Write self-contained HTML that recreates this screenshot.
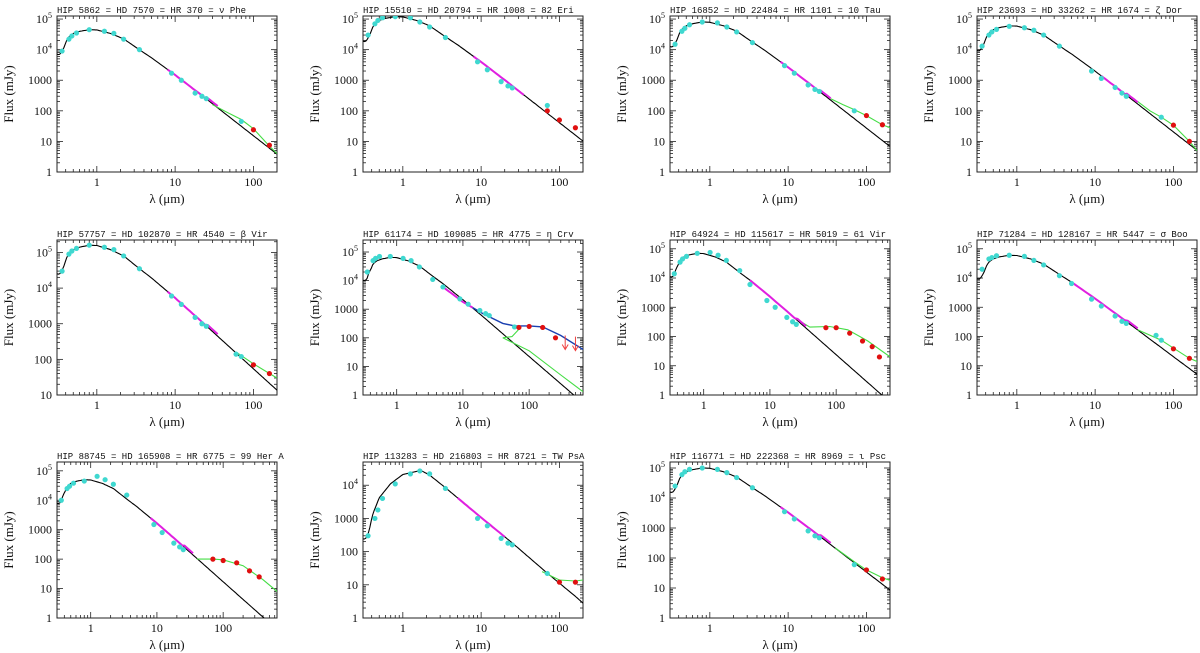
<!DOCTYPE html>
<html><head><meta charset="utf-8">
<style>
html,body{margin:0;padding:0;background:#fff;}
svg{display:block;}
.t{font-family:"Liberation Mono","DejaVu Sans Mono",monospace;font-size:9px;fill:#111;}
.ax{font-family:"Liberation Serif",serif;font-size:12px;fill:#111;}
.at{font-family:"Liberation Serif",serif;font-size:13px;fill:#111;}
</style></head>
<body>
<svg id="fig" width="1200" height="653" viewBox="0 0 1200 653" xmlns="http://www.w3.org/2000/svg"></svg>
<script>
// ---- shared photosphere shape (lambda um, relative flux) ----
const shapeL = [0.3,0.36,0.4,0.45,0.5,0.6,0.8,1.0,1.5,2.2,3.5,5,10,20,100,700];
const shapeF = [0.15,0.2,0.42,0.62,0.75,0.88,1.0,0.98,0.75,0.5,0.22,0.12,0.033,0.0085,0.00034,0.000007];
const kShapeL = [0.3,0.36,0.4,0.5,0.7,1.0,1.7,2.2,3.5,10,25,70,160,200];
const kShapeF = [0.008,0.012,0.04,0.15,0.4,0.75,1.0,0.72,0.3,0.038,0.0065,0.0008,0.00016,0.0001];

const titles = [
 "HIP 5862 = HD 7570 = HR 370 = \u03bd Phe",
 "HIP 15510 = HD 20794 = HR 1008 = 82 Eri",
 "HIP 16852 = HD 22484 = HR 1101 = 10 Tau",
 "HIP 23693 = HD 33262 = HR 1674 = \u03b6 Dor",
 "HIP 57757 = HD 102870 = HR 4540 = \u03b2 Vir",
 "HIP 61174 = HD 109085 = HR 4775 = \u03b7 Crv",
 "HIP 64924 = HD 115617 = HR 5019 = 61 Vir",
 "HIP 71284 = HD 128167 = HR 5447 = \u03c3 Boo",
 "HIP 88745 = HD 165908 = HR 6775 = 99 Her A",
 "HIP 113283 = HD 216803 = HR 8721 = TW PsA",
 "HIP 116771 = HD 222368 = HR 8969 = \u03b9 Psc"
];
const peaks = [4.5e4,1.2e5,8e4,6e4,1.6e5,6.5e4,7e4,6e4,5e4,2.8e4,1.0e5];
const xMaxes = [200,200,200,200,200,650,650,200,650,200,200];
const yMinLog = [0,0,0,0,1,0,0,0,0,0,0];
const yMaxLog = [5.1,5.1,5.1,5.1,5.35,5.42,5.3,5.3,5.3,4.7,5.2];

const optL = [0.36,0.44,0.48,0.55,0.8,1.25,1.65,2.2,3.5];
const cyanF = [
 [9e3,2.2e4,2.8e4,3.5e4,4.5e4,4e4,3.4e4,2.2e4,1e4],
 [3e4,7e4,9e4,1.1e5,1.2e5,1.1e5,8e4,5.5e4,2.5e4],
 [1.5e4,4e4,5e4,6.5e4,8e4,7.5e4,5.5e4,3.8e4,1.7e4],
 [1.3e4,3e4,3.8e4,4.6e4,5.8e4,5.2e4,4.3e4,3e4,1.3e4],
 [3e4,9e4,1.1e5,1.3e5,1.6e5,1.4e5,1.2e5,8e4,3.5e4],
 [2e4,5e4,6e4,7e4,7e4,6e4,5e4,3e4,1.1e4],
 [1.4e4,3.5e4,4.5e4,5.5e4,7e4,7.5e4,6e4,4e4,1.8e4],
 [2e4,4.5e4,5e4,5.8e4,6e4,5.5e4,4e4,2.8e4,1.2e4],
 [1e4,2.5e4,3e4,3.8e4,4.5e4,6.5e4,5e4,3.5e4,1.5e4],
 [300,1000,1800,4000,1.1e4,2.2e4,2.7e4,2.2e4,8000],
 [2.5e4,6e4,7.5e4,9e4,1e5,9e4,7e4,4.8e4,2.2e4]
];
const irL = [
 [9,12,18,22,25,70],[9,12,18,22,25,70],[9,12,18,22,25,70],[9,12,18,22,25,70],
 [9,12,18,22,25,60,70],[5,9,12,18,22,25,60],[5,9,12,18,22,25],[5,9,12,18,22,25,60,70],
 [9,12,18,22,25],[9,12,18,22,25,70],[9,12,18,22,25,70]
];
const irF = [
 [1700,1000,380,300,250,45],[4000,2200,900,650,560,150],[3000,1700,700,500,430,100],
 [2000,1150,580,380,300,62],[6000,3500,1500,1000,850,140,120],[6000,2300,1500,900,700,600,240],
 [6000,1700,1000,450,320,260],[6500,1900,1100,500,330,280,110,75],
 [1500,800,350,260,210],[1000,600,250,180,160,22],[3500,2000,800,550,470,60]
];
const redL = [[100,160],[70,100,160],[100,160],[100,160],[100,160],[70,100,160,250],[70,100,160,250,350,450],[100,160],[70,100,160,250,350],[100,160],[100,160]];
const redF = [[24,7.5],[100,50,28],[70,35],[34,10],[70,40],[230,250,230,100],[200,200,130,70,45,20],[38,18],[100,90,75,40,25],[12,12],[40,20]];
const limL = [[],[],[],[],[],[350,500],[],[],[],[],[]];
const limF = [[],[],[],[],[],[120,110],[],[],[],[],[]];
const magL = [[8,35],[8,35],[8,35],[12,35],[8,35],[5,14],[5,35],[5,35],[8,35],[5,20],[8,35]];
const greenL = [
 [30,50,70,100,160,200],[],[35,50,70,100,160,200],[35,50,70,100,160,200],[60,100,160,200],
 [40,100,300,650],[25,40,80,150,300,700],[35,70,100,160,200],
 [40,70,100,200,400,700],[60,100,160,200],[40,70,100,160,200]
];
const greenF = [
 [160,80,52,26,7,4],[],[250,160,110,70,35,28],[200,100,62,34,10,5],[160,75,40,30],
 [100,35,5,1.3],[400,210,220,170,70,18],[170,75,40,18,14],
 [100,100,95,60,20,7],[25,14,13,14],[215,75,40,22,18]
];
const cold2L = [40,55,70];
const cold2F = [100,110,200];
const blueL = [5,10,20,40,60,100,160,300,700];
const blueF = [6000,1800,700,320,260,260,240,120,35];

const NS = "http://www.w3.org/2000/svg";
const svg = document.getElementById('fig');
function mk(tag, attrs, parent){ const e=document.createElementNS(NS,tag); for(const k in attrs) e.setAttribute(k,attrs[k]); (parent||svg).appendChild(e); return e; }
function interpLog(L,F,l){
  if(l<=L[0]) return F[0]; if(l>=L[L.length-1]) return F[F.length-1];
  for(let i=0;i<L.length-1;i++){ if(l>=L[i]&&l<=L[i+1]){ const t=(Math.log10(l)-Math.log10(L[i]))/(Math.log10(L[i+1])-Math.log10(L[i])); return Math.pow(10,Math.log10(F[i])+t*(Math.log10(F[i+1])-Math.log10(F[i]))); } }
}
const colX=[57,363,670,977], rowTop=[16,240,462], rowBot=[172,395,618];

for(let p=0;p<11;p++){
  const col=p%4,row=Math.floor(p/4);
  const x0=colX[col], y0=rowTop[row], y1=rowBot[row], W=220, H=y1-y0;
  const lx0=Math.log10(0.31), lx1=Math.log10(xMaxes[p]);
  const ly0=yMinLog[p], ly1=yMaxLog[p];
  const X=l=>x0+(Math.log10(l)-lx0)/(lx1-lx0)*W;
  const Y=f=>y1-(Math.log10(f)-ly0)/(ly1-ly0)*H;
  const g=mk('g',{});
  
  
  const cid='c'+p;
  const cp=mk('clipPath',{id:cid},g); mk('rect',{x:x0,y:y0,width:W,height:H},cp);
  const tt=mk('text',{x:x0,y:y0-3,class:'t'},g); tt.textContent=titles[p];
  
  
  const fr=mk('rect',{x:x0,y:y0,width:W,height:H,fill:'none',stroke:'#222','stroke-width':1},g);
  
  
  for(let d=-1;d<=3;d++) for(let m=1;m<10;m++){
    const l=m*Math.pow(10,d); if(l<0.31||l>xMaxes[p]) continue;
    const x=X(l), len=m===1?6:3;
    mk('line',{x1:x,y1:y1,x2:x,y2:y1-len,stroke:'#222','stroke-width':0.8},g);
    mk('line',{x1:x,y1:y0,x2:x,y2:y0+len,stroke:'#222','stroke-width':0.8},g);
    if(m===1){ const tl=mk('text',{x:x,y:y1+14,class:'ax','text-anchor':'middle'},g); tl.textContent=String(l);
      
       }
  }
  for(let d=0;d<6;d++) for(let m=1;m<10;m++){
    const f=m*Math.pow(10,d), lf=Math.log10(f); if(lf<ly0-1e-6||lf>ly1) continue;
    const y=Y(f), len=m===1?6:3;
    mk('line',{x1:x0,y1:y,x2:x0+len,y2:y,stroke:'#222','stroke-width':0.8},g);
    mk('line',{x1:x0+W,y1:y,x2:x0+W-len,y2:y,stroke:'#222','stroke-width':0.8},g);
    if(m===1){ const tl=mk('text',{x:x0-5,y:y+4,class:'ax','text-anchor':'end'},g);
      if(d<4) tl.textContent=String(f); else { tl.textContent='10'; const s=mk('tspan',{dy:-5,'font-size':8},tl); s.textContent=String(d); }
      
       }
  }
  const yl=mk('text',{x:x0-44,y:(y0+y1)/2,class:'at','text-anchor':'middle',transform:`rotate(-90 ${x0-44} ${(y0+y1)/2})`},g);
  yl.textContent='Flux (mJy)';
  
  
  const xl=mk('text',{x:x0+W/2,y:y1+31,class:'at','text-anchor':'middle'},g);
  xl.textContent='\u03bb (\u03bcm)';
  
  
  const pg=mk('g',{'clip-path':`url(#${cid})`},g);
  const sL = p===9?kShapeL:shapeL, sF = p===9?kShapeF:shapeF;
  let pts=[]; for(let i=0;i<=160;i++){ const l=Math.pow(10,lx0+(lx1-lx0)*i/160); let f=peaks[p]*interpLog(sL,sF,l);
    if(l<0.42){ f*= (1 - 0.12*Math.abs(Math.sin(i*2.3))); } pts.push(X(l).toFixed(1)+','+Y(f).toFixed(1)); }
  const ph=mk('polyline',{points:pts.join(' '),fill:'none',stroke:'#000','stroke-width':1.1},pg);
  
  
  function curve(L,F,color,name,w){ if(!L.length) return; const q=L.map((l,i)=>X(l).toFixed(1)+','+Y(F[i]).toFixed(1));
    const e=mk('polyline',{points:q.join(' '),fill:'none',stroke:color,'stroke-width':w||1.1},pg);
    
     }
  curve(greenL[p],greenF[p],'#44dd44','excess-model');
  if(p===5){ curve(cold2L,cold2F,'#44dd44','cold-dust-model'); curve(blueL,blueF,'#1a3fb0','total-model',1.4); }
  { const q=[]; for(let i=0;i<=20;i++){ const l=Math.pow(10,Math.log10(magL[p][0])+(Math.log10(magL[p][1])-Math.log10(magL[p][0]))*i/20);
      let f = p===5 ? interpLog(blueL,blueF,l) : peaks[p]*interpLog(sL,sF,l)*(l>25&&greenL[p].length?1.15:1);
      q.push(X(l).toFixed(1)+','+Y(f).toFixed(1)); }
    const e=mk('polyline',{points:q.join(' '),fill:'none',stroke:'#e020e0','stroke-width':2},pg);
    
     }
  const cL=optL.concat(irL[p]), cF=cyanF[p].concat(irF[p]);
  cL.forEach((l,i)=>{ const c=mk('circle',{cx:X(l),cy:Y(cF[i]),r:2.6,fill:'#3fd8d0'},pg);
    
     });
  redL[p].forEach((l,i)=>{ const c=mk('circle',{cx:X(l),cy:Y(redF[p][i]),r:2.6,fill:'#e01010'},pg);
    
     });
  limL[p].forEach((l,i)=>{ const x=X(l),y=Y(limF[p][i]);
    const a=mk('path',{d:`M${x},${y} L${x},${y+14} M${x-3},${y+9} L${x},${y+14} L${x+3},${y+9}`,stroke:'#f04040',fill:'none','stroke-width':1},pg);
    
     });
}
</script>
</body></html>
